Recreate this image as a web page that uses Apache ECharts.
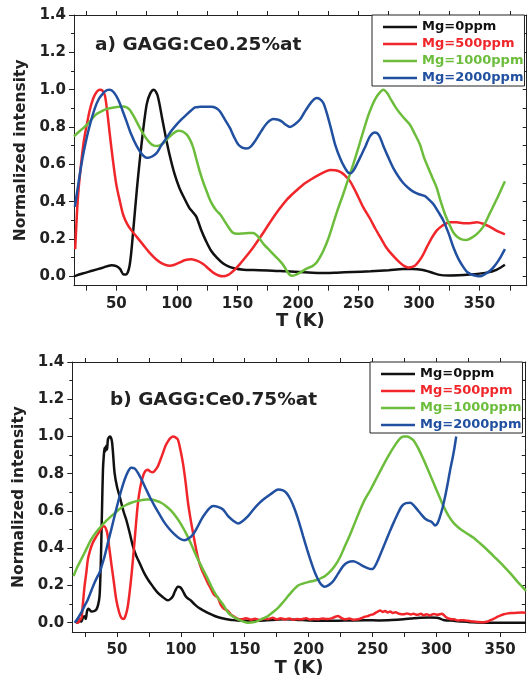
<!DOCTYPE html>
<html>
<head>
<meta charset="utf-8">
<script src="https://cdn.jsdelivr.net/npm/echarts@6/dist/echarts.min.js"></script>
<style>
  html, body { margin: 0; padding: 0; background: #fff; }
  #chart { width: 529px; height: 678px; }
</style>
</head>
<body>
<div id="chart"></div>
<script>
// Series names and colours
const seriesNames = ['Mg=0ppm', 'Mg=500ppm', 'Mg=1000ppm', 'Mg=2000ppm'];
const seriesColors = ['#111111', '#f0262b', '#6cbd3c', '#2150a0'];

// Panel titles
const panelTitles = ['a) GAGG:Ce0.25%at', 'b) GAGG:Ce0.75%at'];

// Tick labels / tick positions
const xTickLabels = [50, 100, 150, 200, 250, 300, 350];
const xTickMarks = [25, 50, 75, 100, 125, 150, 175, 200, 225, 250, 275, 300, 325, 350, 375];
const yTickLabels = [0, 0.2, 0.4, 0.6, 0.8, 1.0, 1.2, 1.4];
const yMinorTicks = [0.1, 0.3, 0.5, 0.7, 0.9, 1.1, 1.3];
const yAllTicks = [0, 0.1, 0.2, 0.3, 0.4, 0.5, 0.6, 0.7, 0.8, 0.9, 1.0, 1.1, 1.2, 1.3, 1.4];

// Panel a) GAGG:Ce0.25%at  — [T (K), normalized intensity]
const blackA = [[15,0.0],[22,0.015],[30,0.03],[38,0.045],[46,0.06],[50,0.055],[53,0.04],[56,0.01],[58,0.01],[61,0.06],[64,0.25],[67,0.47],[71,0.72],[75,0.92],[78,0.98],[81,1.0],[84,0.97],[88,0.84],[91,0.74],[94,0.65],[98,0.55],[102,0.475],[106,0.42],[110,0.37],[113,0.345],[116,0.32],[120,0.25],[124,0.19],[128,0.14],[133,0.1],[138,0.07],[143,0.052],[148,0.042],[155,0.036],[163,0.034],[175,0.032],[190,0.027],[205,0.022],[218,0.018],[232,0.02],[245,0.023],[260,0.027],[275,0.033],[287,0.039],[295,0.039],[302,0.035],[310,0.022],[317,0.008],[325,0.005],[342,0.01],[356,0.02],[364,0.035],[371,0.062]];
const redA = [[16,0.145],[18,0.4],[20,0.55],[23,0.72],[25.5,0.81],[28,0.89],[31,0.955],[34,0.99],[36.5,1.0],[38.5,0.995],[40.5,0.97],[42.5,0.88],[44.6,0.76],[47,0.63],[50,0.49],[53,0.4],[55.6,0.33],[59,0.28],[62.6,0.245],[67,0.21],[72,0.17],[77,0.13],[83,0.09],[88,0.068],[94,0.057],[98,0.062],[102.5,0.075],[107,0.088],[112,0.092],[117,0.083],[121.7,0.066],[126,0.042],[130,0.02],[134,0.006],[138,0.0],[142,0.006],[146,0.025],[152,0.066],[157,0.105],[163,0.155],[170,0.22],[177,0.29],[184,0.355],[190.7,0.41],[197,0.45],[204,0.49],[211,0.52],[218,0.546],[223,0.562],[227,0.57],[231,0.568],[235,0.56],[239,0.54],[243,0.51],[248,0.45],[254,0.37],[259.5,0.31],[264,0.255],[268,0.21],[273,0.155],[278,0.115],[284,0.075],[288,0.055],[291,0.048],[295,0.052],[298,0.066],[302,0.1],[306.4,0.155],[310,0.2],[314.6,0.245],[319,0.27],[325.6,0.29],[331,0.29],[336.6,0.285],[342,0.285],[347.7,0.29],[353,0.282],[358.7,0.265],[364,0.245],[371,0.225]];
const greenA = [[15,0.75],[20,0.78],[25.4,0.81],[30,0.845],[33.6,0.87],[38,0.885],[42,0.897],[48,0.905],[55.6,0.91],[58.5,0.905],[61,0.893],[65,0.85],[69.4,0.795],[73.5,0.75],[77.7,0.715],[81,0.7],[84,0.698],[88,0.71],[91.5,0.733],[96,0.76],[101,0.78],[104,0.778],[108,0.76],[111,0.73],[113.5,0.69],[116,0.63],[119,0.56],[122,0.5],[124.5,0.457],[127,0.415],[130,0.377],[133,0.35],[136,0.33],[139,0.3],[142,0.27],[146,0.235],[150,0.228],[155,0.23],[160,0.232],[163,0.232],[166,0.22],[168.6,0.2],[172,0.17],[177,0.137],[181,0.11],[185,0.083],[188,0.06],[190.7,0.03],[193,0.01],[195,0.003],[198,0.008],[201.7,0.02],[205,0.033],[208.5,0.045],[212,0.055],[215.5,0.075],[218,0.1],[221,0.137],[225,0.2],[229,0.28],[233,0.36],[237.4,0.44],[241.5,0.52],[245.7,0.6],[250,0.69],[254,0.777],[258,0.86],[261,0.91],[263.6,0.947],[267,0.98],[270.5,1.0],[274,0.98],[277,0.945],[281.3,0.9],[286,0.86],[292.4,0.813],[296,0.77],[300.8,0.706],[304,0.64],[307.7,0.58],[311,0.53],[314.6,0.475],[318,0.4],[321.5,0.333],[325,0.28],[328.4,0.235],[332,0.21],[336,0.197],[339.4,0.195],[343,0.205],[347.7,0.226],[353,0.265],[358.7,0.34],[364,0.41],[371,0.51]];
const blueA = [[15.7,0.372],[18,0.47],[19.8,0.546],[22.5,0.65],[25.4,0.74],[28.5,0.82],[32.2,0.9],[35.5,0.95],[39,0.98],[42,0.997],[44.6,1.0],[48,0.985],[51.5,0.947],[55,0.89],[58.4,0.83],[62,0.765],[66.6,0.7],[71,0.655],[74,0.637],[76.3,0.635],[79.5,0.642],[83.2,0.66],[87,0.7],[91.5,0.742],[95.5,0.78],[99.7,0.813],[104,0.842],[108,0.866],[111.5,0.887],[114.9,0.905],[119,0.908],[124.5,0.909],[129,0.908],[132.8,0.9],[135.5,0.884],[139.7,0.84],[143.8,0.795],[147,0.75],[150.7,0.706],[154,0.69],[157.6,0.685],[161,0.695],[164.5,0.724],[168,0.76],[171.4,0.795],[175,0.825],[179.6,0.843],[183,0.84],[186.5,0.83],[190,0.812],[193.4,0.8],[197,0.812],[201.7,0.84],[205,0.875],[208.5,0.91],[212,0.94],[215.5,0.955],[218,0.95],[221,0.929],[224.5,0.86],[227.9,0.777],[231,0.7],[234.7,0.635],[238,0.59],[241.6,0.555],[243.5,0.553],[245.7,0.565],[249,0.605],[252.6,0.653],[256,0.7],[259.5,0.75],[263.6,0.77],[267,0.755],[270.5,0.7],[274.5,0.64],[278.8,0.58],[283,0.535],[287,0.5],[291,0.475],[295.3,0.454],[300,0.44],[305,0.43],[308.5,0.41],[312,0.386],[316,0.345],[320.3,0.297],[324.5,0.23],[328.5,0.155],[332.5,0.095],[336.8,0.048],[340,0.022],[343.6,0.01],[347,0.003],[350.5,0.0],[354.5,0.012],[358.7,0.03],[362,0.052],[365.5,0.083],[368,0.11],[371,0.146]];

// Panel b) GAGG:Ce0.75%at
const blackB = [[18,0.0],[20,0.005],[21,0.02],[22,0.005],[23.5,0.03],[24.6,0.035],[25.5,0.02],[26.5,0.06],[27.5,0.075],[28.5,0.07],[30,0.06],[32,0.062],[33.7,0.07],[35,0.09],[36.3,0.14],[37,0.25],[37.6,0.4],[38.3,0.62],[39,0.82],[39.7,0.9],[40.3,0.94],[40.8,0.92],[41.6,0.95],[42.2,0.93],[42.9,0.985],[44,0.998],[44.7,1.0],[45.5,0.99],[46.2,0.966],[47,0.9],[48.1,0.805],[50,0.73],[52,0.68],[55,0.6],[57.2,0.554],[60,0.48],[62.5,0.41],[65,0.36],[67.7,0.32],[71,0.27],[74.2,0.232],[78,0.195],[82,0.16],[86,0.137],[89.9,0.12],[92,0.128],[93.8,0.143],[95.5,0.17],[97.7,0.193],[99.5,0.19],[101.6,0.17],[103.5,0.145],[105.6,0.13],[108,0.118],[110.8,0.098],[114,0.08],[118.6,0.062],[122,0.05],[126.5,0.036],[130,0.028],[135,0.02],[139.5,0.015],[147,0.01],[155,0.01],[165,0.012],[175,0.016],[181.3,0.018],[190,0.016],[200,0.012],[207.4,0.01],[220,0.01],[233.5,0.012],[245,0.013],[255,0.012],[265,0.014],[274.3,0.018],[280,0.022],[287.4,0.027],[295,0.028],[300.5,0.027],[303,0.022],[305.6,0.014],[309,0.012],[313.5,0.01],[320,0.006],[326.6,0.003],[340,0.0],[355,0.0],[370,0.0]];
const redB = [[18,0.0],[20,0.003],[21,0.02],[22,0.018],[23,0.08],[24.6,0.196],[26,0.27],[27.2,0.34],[29,0.39],[31.1,0.43],[33.5,0.46],[36.3,0.49],[38,0.51],[39.7,0.518],[41,0.51],[42.3,0.483],[43.8,0.41],[45.5,0.32],[47.5,0.22],[49.4,0.125],[51.5,0.06],[53.3,0.027],[55.2,0.02],[56.8,0.04],[58.5,0.09],[60.5,0.2],[62.5,0.34],[64.5,0.5],[66.4,0.644],[68.3,0.73],[70.3,0.786],[72.2,0.815],[74.2,0.822],[76,0.812],[78.1,0.808],[80,0.82],[82,0.84],[84,0.875],[86,0.912],[88,0.95],[89.9,0.974],[92,0.992],[93.8,1.0],[95.8,0.995],[97.7,0.983],[99.6,0.93],[101.6,0.858],[103.6,0.76],[105.6,0.644],[107.5,0.56],[109.5,0.483],[111.5,0.41],[113.4,0.349],[116,0.29],[118.6,0.25],[121,0.215],[123.8,0.179],[126,0.15],[129,0.134],[131,0.1],[133,0.08],[135,0.07],[137,0.062],[139,0.045],[141,0.035],[144.8,0.02],[148,0.018],[151,0.024],[155,0.016],[158,0.021],[162,0.015],[165,0.022],[168.3,0.02],[172,0.026],[175,0.018],[178,0.024],[181.3,0.018],[185,0.022],[188,0.016],[191,0.02],[194.4,0.018],[198,0.024],[201,0.017],[204,0.02],[207.4,0.018],[211,0.023],[214,0.02],[218,0.023],[221,0.032],[223,0.036],[225,0.028],[228.3,0.018],[232,0.022],[235,0.016],[238.8,0.018],[242,0.026],[244,0.032],[246.6,0.036],[248.5,0.042],[250.5,0.045],[253,0.055],[256,0.066],[258,0.058],[260,0.063],[262,0.055],[263.9,0.06],[266,0.052],[268,0.056],[271,0.048],[274.3,0.045],[277,0.05],[280,0.044],[282.1,0.048],[285,0.042],[288,0.048],[290,0.04],[292.6,0.045],[295,0.04],[298,0.047],[301,0.042],[304.4,0.048],[306,0.04],[308,0.028],[310.9,0.02],[314,0.018],[317,0.012],[321.3,0.013],[325,0.01],[329,0.006],[333,0.004],[337,0.003],[340,0.006],[342,0.012],[344.8,0.02],[348,0.032],[350,0.038],[352.7,0.045],[356,0.05],[359,0.052],[363.2,0.054],[367,0.055],[370,0.054]];
const greenB = [[16,0.25],[19,0.3],[22,0.34],[26,0.395],[29.8,0.447],[33.5,0.485],[37.6,0.518],[41.5,0.547],[45.5,0.572],[49.5,0.596],[53.3,0.617],[57,0.632],[61.1,0.644],[65,0.653],[69,0.658],[73,0.661],[76.8,0.661],[80.5,0.655],[84.6,0.644],[88.5,0.625],[92.5,0.6],[96.5,0.566],[100.3,0.527],[104.2,0.478],[108.2,0.42],[112,0.36],[116,0.304],[120,0.25],[123.8,0.196],[127,0.155],[130,0.125],[133,0.098],[137,0.054],[141,0.032],[144.8,0.018],[148.5,0.007],[152.6,0.0],[156.5,0.002],[160.4,0.01],[164.3,0.022],[168.3,0.036],[172,0.056],[176.1,0.08],[180,0.11],[184,0.143],[188,0.175],[191.8,0.2],[195.5,0.21],[199.6,0.218],[203.5,0.224],[207.4,0.232],[210,0.24],[212.7,0.25],[216.6,0.273],[220.5,0.304],[224.5,0.35],[228.4,0.41],[232.3,0.47],[236.2,0.536],[240,0.6],[244,0.661],[248.2,0.71],[252,0.76],[256,0.813],[260,0.865],[263.9,0.912],[267.8,0.955],[271.7,0.99],[274.5,1.0],[277,1.0],[279.5,0.993],[282.1,0.98],[286,0.935],[290,0.876],[293.9,0.815],[297.8,0.751],[301.7,0.688],[305.6,0.626],[309.5,0.575],[313.5,0.536],[317.5,0.51],[321.3,0.491],[325.2,0.474],[329.2,0.456],[334.4,0.425],[339.6,0.393],[346,0.35],[352.7,0.304],[358,0.265],[363.2,0.223],[367,0.195],[370.2,0.17]];
const blueB = [[16.8,0.0],[19,0.02],[22,0.054],[24.6,0.09],[27.2,0.125],[29.8,0.17],[32.4,0.215],[34.5,0.245],[36.3,0.268],[38.3,0.31],[40.3,0.357],[42.9,0.43],[45.5,0.5],[48,0.57],[50.7,0.644],[53.3,0.71],[56,0.769],[58.5,0.81],[61.1,0.832],[63.8,0.828],[66.4,0.805],[69.5,0.765],[72.9,0.715],[76.2,0.668],[79.5,0.626],[83.4,0.58],[87.3,0.536],[91.2,0.502],[95.1,0.474],[99,0.452],[103,0.443],[106,0.452],[109.5,0.474],[112.7,0.51],[116,0.554],[119.5,0.59],[122.5,0.615],[125.2,0.626],[129,0.622],[133,0.608],[137,0.572],[141,0.548],[144.8,0.533],[148.7,0.548],[152.6,0.572],[156.5,0.605],[160.4,0.635],[164.3,0.66],[168.3,0.68],[172.2,0.7],[176.1,0.715],[179.5,0.712],[182.6,0.697],[186,0.66],[189.2,0.608],[192.5,0.54],[195.7,0.465],[199,0.39],[202.2,0.322],[205.5,0.26],[208.8,0.215],[210.7,0.2],[212.7,0.193],[216,0.203],[219.2,0.223],[223,0.262],[227,0.304],[231,0.325],[234.9,0.33],[238.8,0.32],[242.7,0.304],[246.6,0.292],[248.5,0.288],[250.5,0.29],[253.4,0.322],[256.7,0.375],[260,0.43],[263.3,0.485],[266.5,0.536],[269.8,0.585],[273,0.626],[276.3,0.642],[279.6,0.644],[283,0.625],[286,0.6],[288.7,0.578],[291.3,0.558],[294,0.548],[296.6,0.54],[299.1,0.522],[301,0.535],[303,0.572],[305,0.62],[307,0.68],[309,0.75],[310.9,0.822],[312.5,0.875],[314,0.93],[315.6,1.0]];

const panelData = [[blackA, redA, greenA, blueA], [blackB, redB, greenB, blueB]];

const FONT = '"DejaVu Sans", Arial, sans-serif';
const INK = '#222';

// Plot-area geometry of the two panels
const panels = [
  { left: 74, top: 15, width: 452.7, height: 270.7, xMin: 15, xMax: 389, titleX: 95, titleY: 36, legendTop: 15, legendLeft: 372 },
  { left: 72.3, top: 362, width: 453.4, height: 270.7, xMin: 15, xMax: 370, titleX: 110, titleY: 391, legendTop: 362, legendLeft: 370 }
];

const grid = [], xAxis = [], yAxis = [], series = [], legend = [], graphic = [];

panels.forEach((p, gi) => {
  grid.push({ left: p.left, top: p.top, width: p.width, height: p.height, containLabel: false });

  const axisLine = { show: true, onZero: false, lineStyle: { color: INK, width: 1 } };

  // bottom x axis with labels
  xAxis.push({
    gridIndex: gi, type: 'value', position: 'bottom', min: p.xMin, max: p.xMax,
    axisLine: axisLine,
    axisTick: { show: true, inside: false, length: 5, customValues: xTickMarks, lineStyle: { color: INK } },
    axisLabel: { show: true, customValues: xTickLabels, margin: 11, color: INK, fontFamily: FONT, fontWeight: 'bold', fontSize: 15 },
    splitLine: { show: false },
    name: 'T (K)', nameLocation: 'middle', nameGap: 27,
    nameTextStyle: { color: INK, fontFamily: FONT, fontWeight: 'bold', fontSize: 18 }
  });
  // top frame
  xAxis.push({
    gridIndex: gi, type: 'value', position: 'top', min: p.xMin, max: p.xMax,
    axisLine: axisLine,
    axisTick: { show: true, inside: false, length: 4, customValues: xTickMarks, lineStyle: { color: INK } },
    axisLabel: { show: false },
    splitLine: { show: false }
  });
  // left y axis with labels and major ticks
  yAxis.push({
    gridIndex: gi, type: 'value', position: 'left', min: -0.05, max: 1.4,
    axisLine: axisLine,
    axisTick: { show: true, inside: false, length: 5, customValues: yTickLabels, lineStyle: { color: INK } },
    axisLabel: { show: true, customValues: yTickLabels, margin: 8, color: INK, fontFamily: FONT, fontWeight: 'bold', fontSize: 15,
      formatter: v => v.toFixed(1) },
    splitLine: { show: false },
    name: 'Normalized intensity', nameLocation: 'middle', nameGap: 40,
    nameTextStyle: { color: INK, fontFamily: FONT, fontWeight: 'bold', fontSize: 15.5 }
  });
  // left minor ticks
  yAxis.push({
    gridIndex: gi, type: 'value', position: 'left', min: -0.05, max: 1.4,
    axisLine: { show: false },
    axisTick: { show: true, inside: false, length: 3, customValues: yMinorTicks, lineStyle: { color: INK } },
    axisLabel: { show: false },
    splitLine: { show: false }
  });
  // right frame with inward ticks
  yAxis.push({
    gridIndex: gi, type: 'value', position: 'right', min: -0.05, max: 1.4,
    axisLine: axisLine,
    axisTick: { show: true, inside: true, length: 4, customValues: yAllTicks, lineStyle: { color: INK } },
    axisLabel: { show: false },
    splitLine: { show: false }
  });

  const xi = gi * 2, yi = gi * 3;
  panelData[gi].forEach((d, si) => {
    series.push({
      name: seriesNames[si], type: 'line', xAxisIndex: xi, yAxisIndex: yi,
      data: d, showSymbol: false, symbol: 'none', smooth: 0.3,
      lineStyle: { color: seriesColors[si], width: 2.5 },
      itemStyle: { color: seriesColors[si] },
      z: 3 + si
    });
  });

  legend.push({
    left: p.legendLeft, top: p.legendTop, orient: 'vertical',
    icon: 'rect', itemWidth: 34, itemHeight: 2.5, itemGap: 3,
    padding: [5, 1, 1, 11],
    borderColor: INK, borderWidth: 1, backgroundColor: '#fff',
    selectedMode: false,
    textStyle: { fontFamily: FONT, fontWeight: 'bold', fontSize: 13, lineHeight: 14 },
    data: seriesNames.map((n, i) => ({ name: n, textStyle: { color: seriesColors[i] } }))
  });

  graphic.push({
    type: 'text', left: p.titleX, top: p.titleY,
    style: { text: panelTitles[gi], fill: INK, font: 'bold 18.5px ' + FONT }
  });
});

const chart = echarts.init(document.getElementById('chart'), null, { renderer: 'canvas' });
chart.setOption({
  animation: false,
  backgroundColor: '#fff',
  grid, xAxis, yAxis, series, legend, graphic
});
</script>
</body>
</html>
